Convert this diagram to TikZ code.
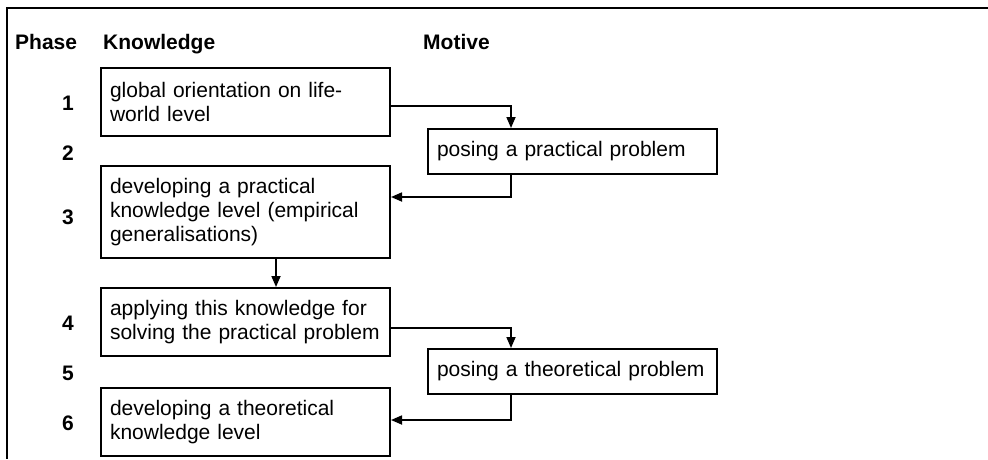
\documentclass[tikz,border=0pt]{standalone}
\usepackage{fontspec}
\setmainfont{Liberation Sans}
\usetikzlibrary{arrows.meta}
\begin{document}
\begin{tikzpicture}[x=1pt,y=-1pt,
  box/.style={draw, line width=2pt, anchor=north west, minimum width=289pt,
    text width=271pt, inner xsep=9pt, inner ysep=0pt, align=left,
    font=\fontsize{21}{24}\selectfont},
  hdr/.style={anchor=base west, inner sep=0pt, font=\fontsize{21}{24}\selectfont\bfseries},
  num/.style={inner sep=0pt, font=\fontsize{21}{24}\selectfont\bfseries},
  arr/.style={line width=1.7pt, -{Triangle[length=11pt,width=9pt]}},
  frameline/.style={line width=2.4pt}]
\useasboundingbox (0,0) rectangle (988,459);
% frame
\draw[frameline] (988,8) -- (7,8) -- (7,459);
% headers
\node[hdr] (hphase) at (15,49) {Phase};
\node[hdr] (hknow) at (103,49) {Knowledge};
\node[hdr] (hmot) at (423,49) {Motive};
% phase numbers
\node[num] (p1) at (68,103) {1};
\node[num] (p2) at (68,153) {2};
\node[num] (p3) at (68,217) {3};
\node[num] (p4) at (68,323) {4};
\node[num] (p5) at (68,373) {5};
\node[num] (p6) at (68,423) {6};
% boxes
\node[box, minimum height=68pt] (b1) at (100,67) {global orientation on life-\\world level};
\node[box, minimum height=45pt] (b2) at (427,128) {posing a practical problem};
\node[box, minimum height=92pt] (b3) at (100,165) {developing a practical\\knowledge level (empirical\\generalisations)};
\node[box, minimum height=68pt] (b4) at (100,287) {applying this knowledge for\\solving the practical problem};
\node[box, minimum height=45pt] (b5) at (427,348) {posing a theoretical problem};
\node[box, minimum height=68pt] (b6) at (100,387) {developing a theoretical\\knowledge level};
% connectors
\draw[arr] ([yshift=-4pt]b1.east) -| ([xshift=84pt]b2.north west);
\draw[arr] ([xshift=84pt]b2.south west) |- ([yshift=15pt]b3.east);
\draw[arr] ([xshift=176pt]b3.south west) -- ([xshift=176pt]b4.north west);
\draw[arr] ([yshift=-6pt]b4.east) -| ([xshift=84pt]b5.north west);
\draw[arr] ([xshift=84pt]b5.south west) |- ([yshift=2pt]b6.east);
\end{tikzpicture}
\end{document}
